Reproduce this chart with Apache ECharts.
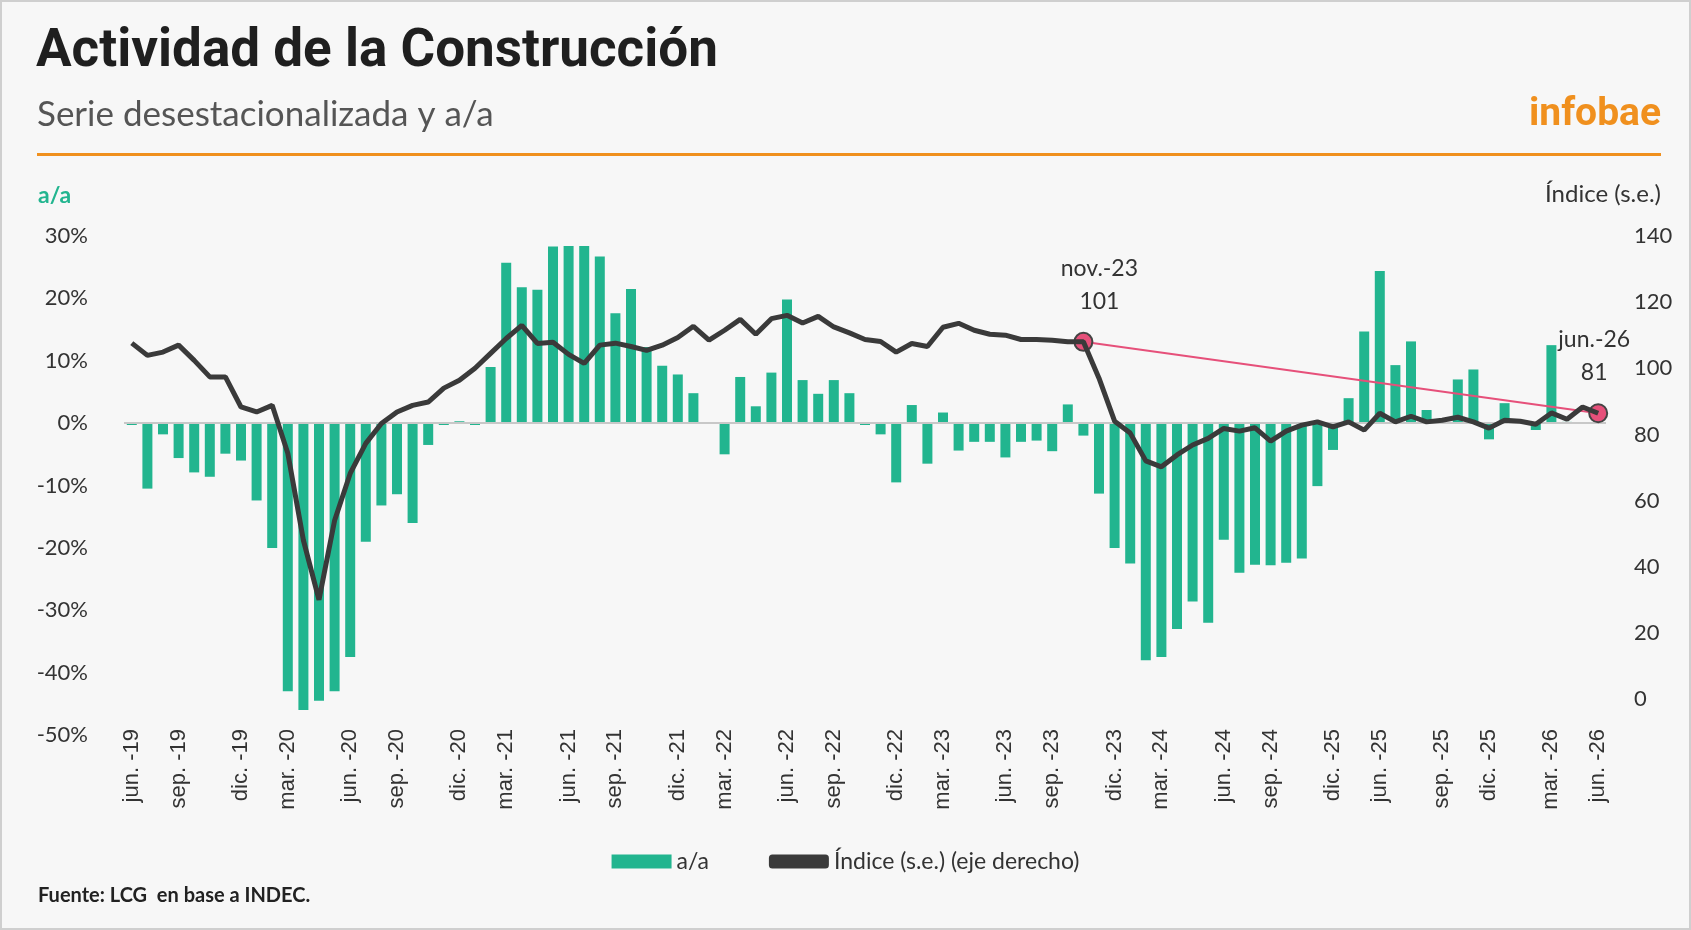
<!DOCTYPE html>
<html><head><meta charset="utf-8">
<script src="https://cdn.jsdelivr.net/npm/echarts@6/dist/echarts.min.js"></script>
<style>html,body{margin:0;padding:0;background:#f7f7f7}#c{width:1691px;height:930px}</style>
</head><body><div id="c"></div>
<script>
const tickLabels = ['jun. -19','sep. -19','dic. -19','mar. -20','jun. -20','sep. -20','dic. -20','mar. -21','jun. -21','sep. -21','dic. -21','mar. -22','jun. -22','sep. -22','dic. -22','mar. -23','jun. -23','sep. -23','dic. -23','mar. -24','jun. -24','sep. -24','dic. -25','jun. -25','sep. -25','dic. -25','mar. -26','jun. -26'];
const barValues = [-0.3,-10.5,-1.8,-5.6,-7.9,-8.6,-4.9,-6.0,-12.4,-20,-43,-46,-44.5,-43,-37.5,-19,-13.2,-11.4,-16,-3.5,-0.3,0.3,-0.3,9,25.7,21.8,21.4,28.3,28.4,28.4,
 26.7,17.6,21.5,12.2,9.2,7.8,4.8,0,-5,7.4,2.7,8.1,19.8,6.9,4.7,6.9,4.8,-0.3,-1.8,-9.5,2.9,-6.5,1.7,-4.4,-3,-3,-5.5,-3,
 -2.8,-4.5,3,-2,-11.3,-20,-22.5,-38,-37.5,-33,-28.6,-32,-18.7,-24,-22.7,-22.8,-22.4,-21.7,-10.1,-4.3,4,14.7,24.4,9.3,13.1,2.1,0,7,8.6,-2.6,3.2,0.3,-1.1,12.5,0.2,0,0];
const indexValues = [107.6,103.9,104.9,107,102.4,97.4,97.4,88.3,86.8,88.8,74.3,48,30,54,68.2,77.3,83.3,86.8,88.8,89.8,94,96.4,100,104.5,109,113,107.5,107.9,104.2,101.5,
 107,107.6,106.6,105.4,107,109.3,112.7,108.5,111.5,114.8,110.3,115,116,113.7,115.7,112.5,110.7,108.7,108.1,104.9,107.5,106.6,112.4,113.6,111.5,110.3,110,108.7,
 108.7,108.5,108,108,97,84,80.4,72,70.2,73.8,76.8,78.8,81.8,81,82,78,81,82.8,83.8,82.3,83.8,81.3,86.4,83.8,85.5,83.8,84.3,85.2,83.8,81.9,84.3,84,83.1,86.5,84.6,88.3,86.4];
const annotIdx = [61, 94];
const annotText = ['nov.-23\n101', 'jun.-26\n81'];

const N = barValues.length;
const cats = barValues.map((_, i) => String(i));
const labelAt = {};
tickLabels.forEach((t, k) => { labelAt[Math.round(k * (N - 1) / (tickLabels.length - 1))] = t; });

const chart = echarts.init(document.getElementById('c'));
const L = 124, R = 85;
chart.setOption({
  backgroundColor: '#f7f7f7',
  animation: false,
  grid: [
    {left: L, right: R, top: 236, bottom: 930 - 735},
    {left: L, right: R, top: 236, bottom: 930 - 699}
  ],
  xAxis: [
    {type: 'category', data: cats, gridIndex: 0,
     axisLine: {show: false}, axisTick: {show: false},
     axisLabel: {interval: 0, rotate: 90, fontFamily: 'Liberation Sans', fontSize: 22, color: '#333', margin: -6,
       formatter: (v) => labelAt[+v] || ''}},
    {type: 'category', data: cats, gridIndex: 1, show: false}
  ],
  yAxis: [
    {type: 'value', gridIndex: 0, min: -50, max: 30, interval: 10, splitLine: {show: false},
     axisLine: {show: false}, axisTick: {show: false},
     axisLabel: {formatter: '{value}%', fontFamily: 'Lato', fontSize: 22, color: '#333', margin: 36}},
    {type: 'value', gridIndex: 1, position: 'right', min: 0, max: 140, interval: 20, splitLine: {show: false},
     axisLine: {show: false}, axisTick: {show: false},
     axisLabel: {fontFamily: 'Lato', fontSize: 22, color: '#333', margin: 28}}
  ],
  legend: {bottom: 52, left: 'center', itemGap: 60, itemWidth: 60, itemHeight: 14,
    textStyle: {fontFamily: 'Lato', fontSize: 23, color: '#333'},
    data: [{name: 'a/a', icon: 'rect'}, {name: 'Índice (s.e.) (eje derecho)', icon: 'roundRect'}]},
  series: [
    {name: 'a/a', type: 'bar', xAxisIndex: 0, yAxisIndex: 0, data: barValues, barWidth: 10,
     itemStyle: {color: '#22b58f'},
     markLine: {silent: true, symbol: 'none', label: {show: false}, lineStyle: {color: '#c8c8c8', width: 2, type: 'solid'}, data: [{yAxis: 0}]}},
    {name: 'Índice (s.e.) (eje derecho)', type: 'line', xAxisIndex: 1, yAxisIndex: 1, data: indexValues,
     symbol: 'none', lineStyle: {color: '#3a3a3a', width: 5}, itemStyle: {color: '#3a3a3a'}, z: 5,
     markLine: {silent: true, symbol: 'none', label: {show: false}, lineStyle: {color: '#e6507a', width: 2, type: 'solid'},
       data: [[{coord: [String(annotIdx[0]), indexValues[annotIdx[0]]]}, {coord: [String(annotIdx[1]), indexValues[annotIdx[1]]]}]]},
     markPoint: {symbol: 'circle', symbolSize: 18, itemStyle: {color: '#e6507a', borderColor: '#444', borderWidth: 2},
       data: annotIdx.map((ix, k) => ({coord: [String(ix), indexValues[ix]],
         label: {show: true, formatter: annotText[k], position: 'top', distance: 14, offset: k === 0 ? [16, 0] : [-4, 0], align: 'center',
           fontFamily: 'Lato', fontSize: 23, lineHeight: 33, color: '#333'}}))}}
  ],
  graphic: [
    {type: 'rect', shape: {x: 1, y: 1, width: 1689, height: 928}, style: {fill: 'none', stroke: '#cfcfcf', lineWidth: 2}},
    {type: 'text', left: 36, top: 26, style: {text: 'Actividad de la Construcción', font: 'bold 53px Roboto', fill: '#1f1f1f'}},
    {type: 'text', left: 37, top: 97, style: {text: 'Serie desestacionalizada y a/a', font: '35px Lato', fill: '#555'}},
    {type: 'text', right: 30, top: 96, style: {text: 'infobae', font: 'bold 39px Roboto', fill: '#f0901e'}},
    {type: 'rect', shape: {x: 37, y: 153, width: 1624, height: 3}, style: {fill: '#f0901e'}},
    {type: 'text', left: 38, top: 184, style: {text: 'a/a', font: 'bold 23px Lato', fill: '#22b58f'}},
    {type: 'text', right: 30, top: 182, style: {text: 'Índice (s.e.)', font: '24px Lato', fill: '#333'}},
    {type: 'text', left: 38, top: 886, style: {text: 'Fuente: LCG  en base a INDEC.', font: 'bold 20px Lato', fill: '#222'}}
  ]
});
</script></body></html>
